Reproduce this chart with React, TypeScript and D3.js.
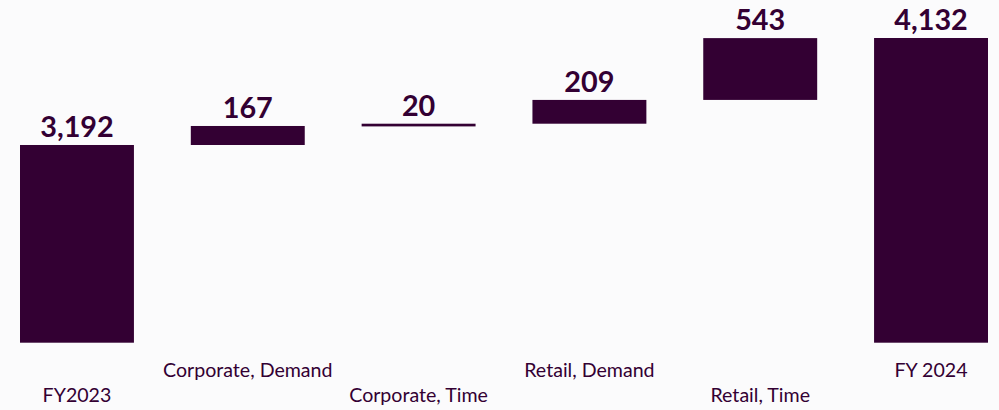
import React from "react";
import * as d3 from "d3";

const categories = ["FY2023", "Corporate, Demand", "Corporate, Time", "Retail, Demand", "Retail, Time", "FY 2024"];
const values = [3192, 167, 20, 209, 543, 4132];
const kinds = ["total", "delta", "delta", "delta", "delta", "total"];
const axisMin = 1455;

const W = 999;
const H = 410;
const BAR = "#330033";
const BG = "#fbfbfc";
const FONT = "Lato, 'Open Sans', sans-serif";

export default function App() {
  const x = d3.scaleBand<string>().domain(categories).range([20, 988]).paddingInner(0.333).paddingOuter(0);
  const yMax = d3.max(values) as number;
  const y = d3.scaleLinear().domain([axisMin, yMax]).range([342.7, 38]);

  let running = 0;
  const bars = categories.map((c, i) => {
    let lo: number, hi: number;
    if (kinds[i] === "total") {
      lo = axisMin;
      hi = values[i];
      running = values[i];
    } else {
      lo = running;
      hi = running + values[i];
      running = hi;
    }
    return { c, i, lo, hi, v: values[i] };
  });

  const fmt = d3.format(",");

  return (
    <svg width={W} height={H} style={{ position: "absolute", left: 0, top: 0, display: "block" }}>
      <rect x={0} y={0} width={W} height={H} fill={BG} />
      {bars.map((b) => {
        const bx = x(b.c) as number;
        const top = y(b.hi);
        const bottom = y(b.lo);
        return (
          <g key={b.c}>
            <rect x={bx} y={top} width={x.bandwidth()} height={Math.max(bottom - top, 2.7)} fill={BAR} />
            <text
              x={bx + x.bandwidth() / 2}
              y={top - 8}
              textAnchor="middle"
              fontFamily={FONT}
              fontWeight="bold"
              fontSize={28.8}
              fill={BAR}
            >
              {fmt(b.v)}
            </text>
            <text
              x={bx + x.bandwidth() / 2}
              y={b.i % 2 === 0 ? 402 : 377}
              textAnchor="middle"
              fontFamily={FONT}
              fontSize={19.6}
              fill={BAR}
            >
              {b.c}
            </text>
          </g>
        );
      })}
    </svg>
  );
}
